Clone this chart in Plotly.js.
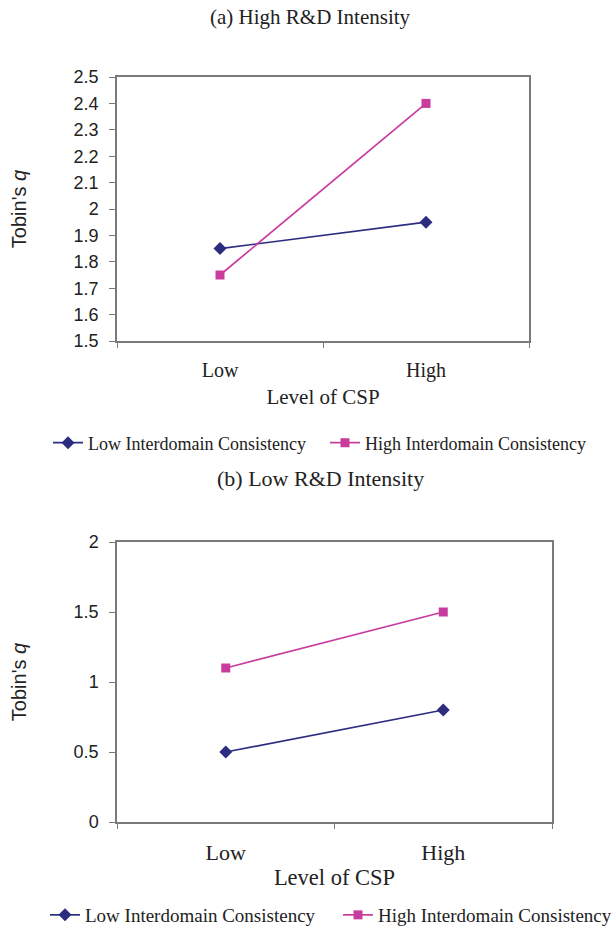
<!DOCTYPE html>
<html>
<head>
<meta charset="utf-8">
<script src="https://cdn.plot.ly/plotly-3.0.1.min.js"></script>
<style>html,body{margin:0;padding:0;background:#fff;}#chart{width:611px;height:927px;}</style>
</head>
<body>
<div id="chart"></div>
<script>
// Data
var categories = ['Low', 'High'];
var seriesNames = ['Low Interdomain Consistency', 'High Interdomain Consistency'];
// Panel (a) High R&D Intensity
var highRD_lowCons = [1.85, 1.95];
var highRD_highCons = [1.75, 2.4];
// Panel (b) Low R&D Intensity
var lowRD_lowCons = [0.5, 0.8];
var lowRD_highCons = [1.1, 1.5];
var panelTitles = ['(a) High R&D Intensity', '(b) Low R&D Intensity'];
var xTitle = 'Level of CSP';
var yTitle = "Tobin's <i>q</i>";

var navy = '#2d2d80';
var magenta = '#c83c9e';
var W = 611, H = 927;
function px(x){return x/W;}
function py(y){return 1 - y/H;}

var serif = 'Liberation Serif, Times New Roman, serif';
var sans = 'Liberation Sans, Arial, sans-serif';
var textColor = '#222';

function trace(y, name, color, symbol, size, xa, ya, leg){
  return {
    x: categories, y: y, name: name, type: 'scatter', mode: 'lines+markers',
    xaxis: xa, yaxis: ya, legend: leg,
    line: {color: color, width: 1.7},
    marker: {color: color, symbol: symbol, size: size},
    hoverinfo: 'x+y'
  };
}

var data = [
  trace(highRD_lowCons, seriesNames[0], navy, 'diamond', 10, 'x', 'y', 'legend'),
  trace(highRD_highCons, seriesNames[1], magenta, 'square', 9, 'x', 'y', 'legend2'),
  trace(lowRD_lowCons, seriesNames[0], navy, 'diamond', 10, 'x2', 'y2', 'legend3'),
  trace(lowRD_highCons, seriesNames[1], magenta, 'square', 9, 'x2', 'y2', 'legend4')
];

var axisLine = '#7a7a7a';
function xaxis(domain, anchor, tickSize, titleSize, titleStandoff){
  return {
    domain: domain, anchor: anchor, type: 'category', categoryorder: 'array', categoryarray: categories,
    range: [-0.5, 1.5], tickson: 'boundaries', ticks: 'outside', ticklen: 5, tickcolor: axisLine,
    showline: true, mirror: true, linecolor: axisLine, linewidth: 1.5, showgrid: false, zeroline: false,
    tickfont: {family: serif, size: tickSize, color: textColor}, ticklabelstandoff: 10,
    title: {text: xTitle, font: {family: serif, size: titleSize, color: textColor}, standoff: titleStandoff},
    automargin: false, fixedrange: true
  };
}
function yaxis(domain, range, dtick, anchor){
  return {
    domain: domain, range: range, dtick: dtick, tick0: range[0], anchor: anchor,
    ticks: 'outside', ticklen: 6, tickcolor: axisLine,
    showline: true, mirror: true, linecolor: axisLine, linewidth: 1.5, showgrid: false, zeroline: false,
    tickfont: {family: sans, size: 18, color: textColor}, ticklabelstandoff: 7,
    title: {text: yTitle, font: {family: sans, size: 20, color: textColor}, standoff: 42},
    automargin: false, fixedrange: true
  };
}
function legend(xpix, ypix, size){
  return {
    orientation: 'h',
    x: px(xpix), y: py(ypix), xanchor: 'left', yanchor: 'middle',
    font: {family: serif, size: size, color: textColor},
    bgcolor: 'rgba(0,0,0,0)', itemclick: false, itemdoubleclick: false
  };
}

var layout = {
  width: W, height: H,
  margin: {l: 0, r: 0, t: 0, b: 0, autoexpand: false},
  paper_bgcolor: '#ffffff', plot_bgcolor: '#ffffff',
  showlegend: true,
  xaxis: xaxis([px(117), px(529)], 'y', 20, 21, 9),
  yaxis: yaxis([py(341), py(77)], [1.5, 2.5], 0.1, 'x'),
  xaxis2: xaxis([px(117), px(552)], 'y2', 22, 22.5, 5),
  yaxis2: yaxis([py(822), py(542)], [0, 2], 0.5, 'x2'),
  legend: legend(48, 443, 18),
  legend2: legend(325, 443, 18),
  legend3: legend(45, 915, 19),
  legend4: legend(338, 915, 19),
  annotations: [
    {text: panelTitles[0], xref: 'paper', yref: 'paper', x: px(310), y: py(17), xanchor: 'center', yanchor: 'middle',
     showarrow: false, font: {family: serif, size: 21, color: textColor}},
    {text: panelTitles[1], xref: 'paper', yref: 'paper', x: px(320), y: py(478), xanchor: 'center', yanchor: 'middle',
     showarrow: false, font: {family: serif, size: 22, color: textColor}}
  ]
};

Plotly.newPlot('chart', data, layout, {displayModeBar: false});
</script>
</body>
</html>
